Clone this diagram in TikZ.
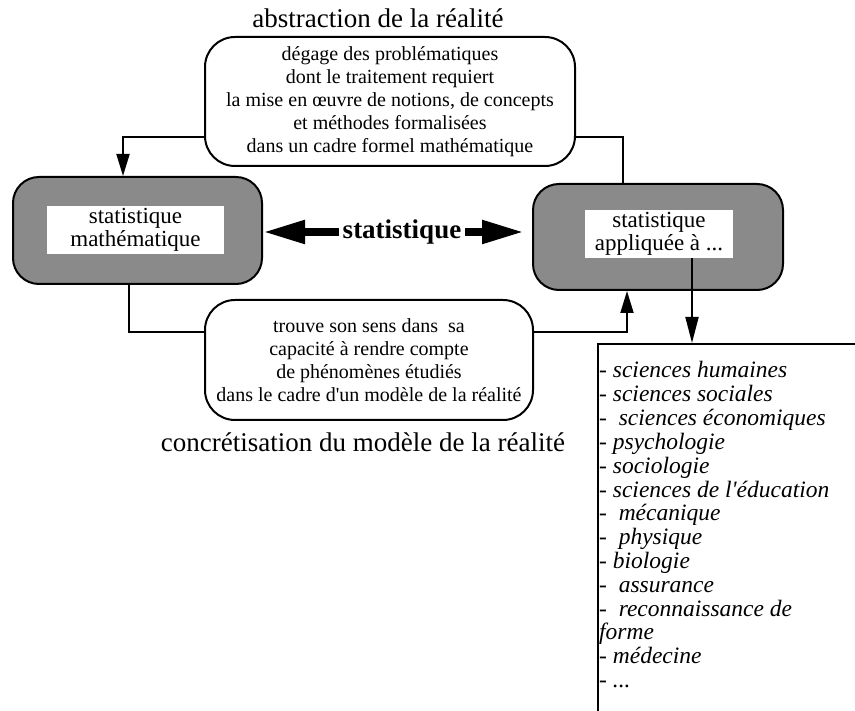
\documentclass[tikz,border=0pt]{standalone}
\usepackage{fontspec}
\setmainfont{Liberation Serif}
\usetikzlibrary{arrows.meta}
\definecolor{shadegray}{RGB}{138,138,138}

\begin{document}
\begin{tikzpicture}[x=1pt, y=-1pt,
	big/.style={font=\fontsize{27}{30}\selectfont},
	txtbox/.style={draw, line width=2pt, rounded corners=30pt, align=center, font=\fontsize{20}{23}\selectfont},
	shadebox/.style={draw, line width=2pt, rounded corners=26pt, fill=shadegray},
	lbl/.style={fill=white, inner sep=0pt, align=center, minimum height=48pt, font=\fontsize{23}{22.5}\selectfont},
	conn/.style={line width=1.8pt},
	arr/.style={conn, -{Triangle[length=22pt, width=13pt]}},
	bigarr/.style={line width=8pt, -{Triangle[length=42pt, width=22pt]}},
	item/.style={anchor=base west, inner sep=0pt, font=\fontsize{23.5}{24}\selectfont\itshape}]
	\def\lead{23.8}
	\def\etc{...}
	\useasboundingbox (0,0) rectangle (855,711);

	\node[big] (abst) at (378,18) {abstraction de la réalité};
	\node[txtbox, minimum width=370pt, minimum height=129pt] (top) at (390,101.5)
		{dégage des problématiques\\dont le traitement requiert\\la mise en œuvre de notions, de concepts\\et méthodes formalisées\\dans un cadre formel mathématique};

	\node[shadebox, minimum width=249pt, minimum height=107pt] (math) at (137.5,230.5) {};
	\node[lbl, minimum width=177pt] (mathlbl) at (135.5,230) {statistique\\mathématique};
	\node[shadebox, minimum width=250pt, minimum height=106pt] (appl) at (658,237) {};
	\node[lbl, minimum width=148pt] (appllbl) at (659,234) {statistique\\appliquée à \etc};

	\node[font=\fontsize{27}{30}\selectfont\bfseries] (stat) at (402,232) {statistique};
	\draw[bigarr] (stat.west) -- (stat.west -| math.east);
	\draw[bigarr, shorten >=8pt] (stat.east) -- (stat.east -| appl.west);

	\node[txtbox, minimum width=328pt, minimum height=120pt] (model) at (369,360)
		{trouve son sens dans \ sa\\capacité à rendre compte\\de phénomènes étudiés\\dans le cadre d\textquotesingle un modèle de la réalité};
	\node[big] (concr) at (363,442) {concrétisation du modèle de la réalité};

	\draw[arr] ([yshift=-35.5pt]top.west) -| ([xshift=-14.5pt]math.north);
	\draw[conn] ([yshift=-35.5pt]top.east) -| ([xshift=-35pt]appl.north);
	\draw[conn] ([xshift=-8.5pt]math.south) |- ([yshift=28pt]model.west);
	\draw[arr] ([yshift=28pt]model.east) -| ([xshift=-31pt]appl.south);

	\node[draw, line width=2pt, anchor=north west, minimum width=300pt, minimum height=400pt] (apps) at (597,343) {};
	\draw[arr, -{Triangle[length=26pt, width=13pt]}] ([xshift=33pt]appllbl.south) -- ([xshift=33pt]appllbl.south |- apps.north);
	\foreach \t [count=\i] in {- sciences humaines, - sciences sociales, -\ \ sciences économiques,
		- psychologie, - sociologie, - sciences de l\textquotesingle éducation, -\ \ mécanique,
		-\ \ physique, - biologie, -\ \ assurance, -\ \ reconnaissance de, forme, - médecine, - \etc}
		\node[item] (item\i) at (599,{378+\lead*(\i-1)}) {\t};
\end{tikzpicture}
\end{document}
